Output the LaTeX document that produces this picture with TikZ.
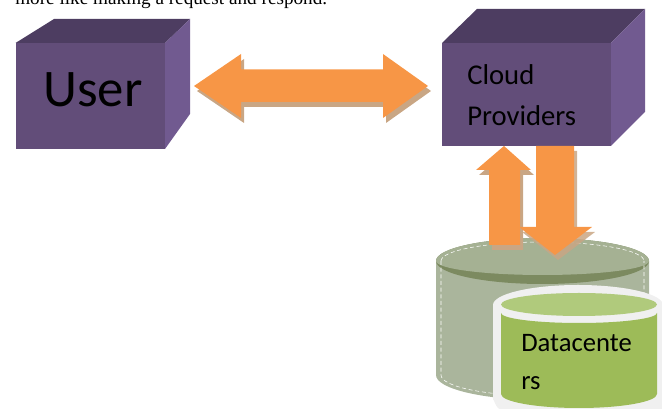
\documentclass[tikz,border=0pt]{standalone}
\usepackage{fontspec}
\setmainfont{Carlito}
\newfontfamily\serifbody{Liberation Serif}
\definecolor{cubefront}{HTML}{624D79}
\definecolor{cubetop}{HTML}{4D3D61}
\definecolor{cubeside}{HTML}{715A90}
\definecolor{arroworange}{HTML}{F79646}
\definecolor{arrowshadow}{HTML}{C9A684}
\definecolor{backbody}{HTML}{AAB59C}
\definecolor{backtop}{HTML}{A5B193}
\definecolor{backrim}{HTML}{7C8A60}
\definecolor{frontbody}{HTML}{9DBB58}
\definecolor{fronttop}{HTML}{B0CA7C}
\definecolor{frontrim}{HTML}{F0F0F0}
\tikzset{
  front face/.style={fill=cubefront},
  top face/.style={fill=cubetop},
  side face/.style={fill=cubeside},
  block arrow/.style={fill=arroworange},
  block shadow/.style={fill=arrowshadow},
  label text/.style={anchor=base west,inner sep=0pt,text=black}
}
\begin{document}
\begin{tikzpicture}[x=0.75pt,y=-0.75pt]
\useasboundingbox (0,0) rectangle (662,409);
\clip (0,0) rectangle (662,409);
\node[anchor=base west,inner sep=0pt,font=\serifbody\fontsize{14.4pt}{16pt}\selectfont] (intro) at (15,5) {more like making a request and respond.};
% User cube
\fill[front face] (15.5,43) rectangle (165,149);
\fill[top face] (15.5,43) -- (54,19) -- (190,19) -- (165,43) -- cycle;
\fill[side face] (165,43) -- (190,19) -- (190,114) -- (165,149) -- cycle;
\node[label text,font=\fontsize{39.6pt}{42pt}\selectfont] (user) at (43,107) {User};
% Cloud cube
\fill[front face] (442,43) rectangle (611,146);
\fill[top face] (442,43) -- (477,9) -- (645,9) -- (611,43) -- cycle;
\fill[side face] (611,43) -- (645,9) -- (645,112) -- (611,146) -- cycle;
\node[label text,font=\fontsize{21.5pt}{24pt}\selectfont] (cloud) at (467,85) {Cloud};
\node[label text,font=\fontsize{21.5pt}{24pt}\selectfont] (providers) at (467,126) {Providers};
% Back cylinder
\fill[backbody] (436,261) -- (436,375) arc[start angle=180,end angle=360,x radius=106.5,y radius=-25] -- (649,261) -- cycle;
\fill[backrim] (542.5,261) ellipse[x radius=106.5,y radius=23];
\fill[backtop] (436,261) arc[start angle=180,end angle=0,x radius=106.5,y radius=-23] arc[start angle=0,end angle=-180,x radius=106.5,y radius=-14];
\draw[white,densely dashed,line width=0.4pt] (441,261) -- (441,375) arc[start angle=180,end angle=360,x radius=101.5,y radius=-21] -- (644,261);
\draw[white,densely dashed,line width=0.4pt] (441,261) arc[start angle=180,end angle=0,x radius=101.5,y radius=-19];
% Double arrow
\fill[block shadow] (197,91) -- (244,59) -- (244,74) -- (386,74) -- (386,59) -- (431,91) -- (386,123) -- (386,107) -- (244,107) -- (244,123) -- cycle;
\fill[block arrow] (194,86) -- (241,54) -- (241,69.5) -- (383,69.5) -- (383,54) -- (428,86) -- (383,118) -- (383,102) -- (241,102) -- (241,118) -- cycle;
% Up arrow
\fill[block shadow] (507,151) -- (534,175) -- (523,175) -- (523,250) -- (492,250) -- (492,175) -- (479,175) -- cycle;
\fill[block arrow] (504,146) -- (531,170) -- (520,170) -- (520,245) -- (489,245) -- (489,170) -- (476,170) -- cycle;
% Down arrow
\fill[block shadow,opacity=.85] (539,151) -- (577,151) -- (577,232) -- (595,232) -- (558,260) -- (522,232) -- (539,232) -- cycle;
\fill[block arrow] (536,146) -- (574,146) -- (574,227) -- (592,227) -- (555,255) -- (519,227) -- (536,227) -- cycle;
% Front cylinder
\fill[frontrim] (493,305) arc[start angle=180,end angle=0,x radius=85,y radius=-20] -- (663,409) -- (500,409) to[out=180,in=90] (493,400) -- cycle;
\fill[frontbody] (501,313) -- (501,394) arc[start angle=180,end angle=360,x radius=78,y radius=-14] -- (657,313) arc[start angle=0,end angle=-180,x radius=78,y radius=-10] -- cycle;
\fill[fronttop] (579,304.5) ellipse[x radius=78,y radius=11.5];
\node[label text,font=\fontsize{20pt}{22pt}\selectfont] (dc1) at (521,352) {Datacente};
\node[label text,font=\fontsize{20pt}{22pt}\selectfont] (dc2) at (521,390) {rs};
\end{tikzpicture}
\end{document}
